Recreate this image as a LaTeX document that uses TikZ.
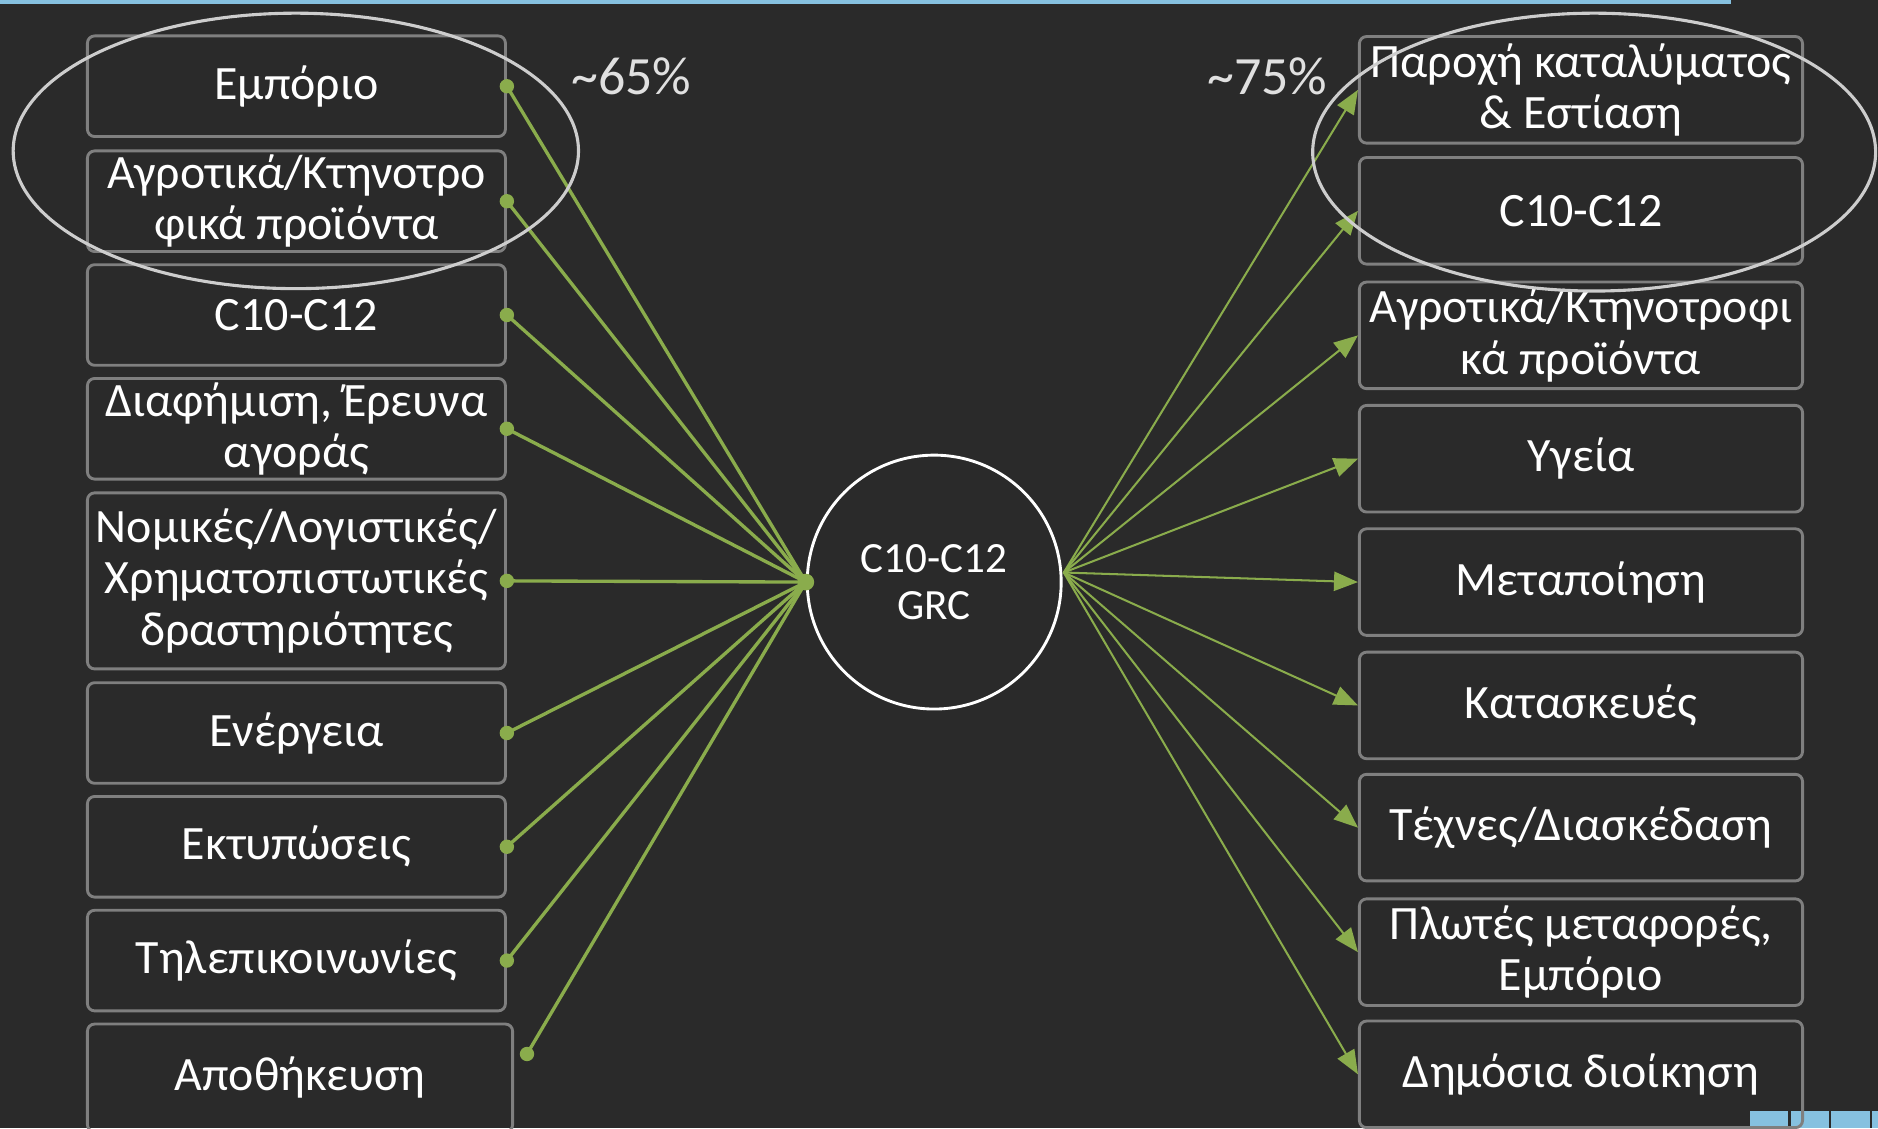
\documentclass[tikz,border=0pt]{standalone}
\usepackage{fontspec}
\setmainfont{Carlito}
\usetikzlibrary{arrows.meta,calc,positioning}
\definecolor{slBack}{HTML}{2A2A2A}
\definecolor{slFrame}{HTML}{7F7F7F}
\definecolor{slGreen}{HTML}{8AAC4C}
\definecolor{slRing}{HTML}{CDCDCD}
\definecolor{slBlue}{HTML}{86C1E0}
\tikzset{
 chart/.style={text=white,line cap=round,line join=round},
 sector/.style={draw=slFrame,line width=2.4pt,rounded corners=6pt,inner sep=0pt,
   align=center,font=\fontsize{40}{43}\selectfont},
 hub/.style={circle,draw=white,line width=2.4pt,inner sep=0pt,minimum size=212pt,
   align=center,font=\fontsize{36}{39}\selectfont},
 feed/.style={draw=slGreen,line width=2.8pt},
 spread/.style={draw=slGreen,line width=1.7pt,-{Triangle[length=20pt,width=16pt]}},
 knot/.style={circle,fill=slGreen,inner sep=0pt,minimum size=12pt},
 share/.style={font=\fontsize{45}{50}\selectfont,text=white!88!black},
 group/.style={draw=slRing,line width=2.6pt}
}

\begin{document}
\begin{tikzpicture}[chart,x=1pt,y=-1pt]
 \fill[slBack] (0,0) rectangle (1568,942);
 \useasboundingbox (0,0) rectangle (1568,942);
 \fill[slBlue] (0,0) rectangle (1445,3.5);
 \foreach \x/\w in {1461/32,1495/32,1529/32,1563/5}{\fill[slBlue] (\x,928) rectangle ++(\w,14);}
 % source sectors
 \foreach \n/\y/\h/\txt in {1/72/84/Εμπόριο, 2/168/84/{Αγροτικά/Κτηνοτρο\\φικά προϊόντα},
   3/263/84/C10-C12, 4/358/84/{Διαφήμιση, Έρευνα\\αγοράς},
   5/485/147/{Νομικές/Λογιστικές/\\Χρηματοπιστωτικές\\δραστηριότητες},
   6/612/84/Ενέργεια, 7/707/84/Εκτυπώσεις, 8/802/84/Τηλεπικοινωνίες}
  {\node[sector,minimum width=349pt,minimum height=\h pt] (src\n) at (247.5,\y) {\txt};}
 \node[sector,minimum width=355pt,minimum height=90pt] (src9) at (250.5,900) {Αποθήκευση};
 % destination sectors
 \foreach \n/\y/\txt in {1/75/{Παροχή καταλύματος\\\& Εστίαση}, 2/176/C10-C12,
   3/280/{Αγροτικά/Κτηνοτροφι\\κά προϊόντα}, 4/383/Υγεία, 5/486/Μεταποίηση,
   6/589/Κατασκευές, 7/691/{Τέχνες/Διασκέδαση}, 8/795/{Πλωτές μεταφορές,\\Εμπόριο},
   9/897/Δημόσια διοίκηση}
  {\node[sector,minimum width=370pt,minimum height=89pt] (dst\n) at (1320,\y) {\txt};}
 \node[hub] (grc) at (780,486) {C10-C12\\GRC};
 % inflows
 \coordinate (tail9) at (440,880);
 \foreach \n in {1,...,8}{\draw[feed] (src\n.east) -- (grc.west);
   \node[knot] (knot\n) at (src\n.east) {};}
 \draw[feed] (tail9) -- (grc.west);
 \node[knot] (knot9) at (tail9) {};
 \node[knot,minimum size=14pt] (knotgrc) at (grc.west) {};
 % outflows
 \coordinate (fan) at ($(grc.east)+(1,-8)$);
 \foreach \n in {1,...,9}{\draw[spread] (fan) -- (dst\n.west);}
 % top groups
 \draw[group] (247,126) ellipse [x radius=236pt,y radius=115pt];
 \draw[group] (1331,127) ellipse [x radius=235pt,y radius=116pt];
 \node[share] (shareL) at (527,64) {\textasciitilde65\%};
 \node[share] (shareR) at (1058,64) {\textasciitilde75\%};
\end{tikzpicture}
\end{document}
